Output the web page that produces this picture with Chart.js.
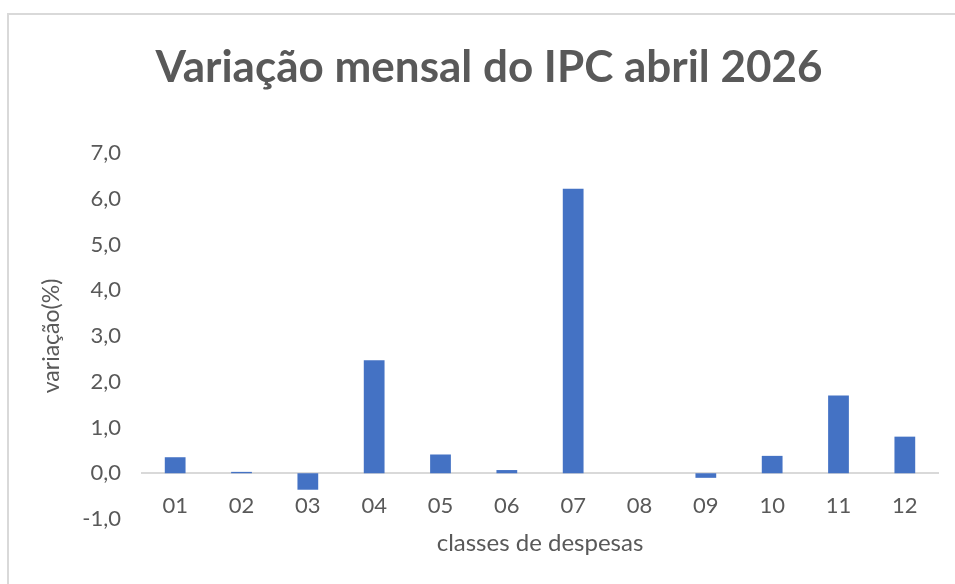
<!DOCTYPE html>
<html>
<head>
<meta charset="utf-8">
<script src="https://cdn.jsdelivr.net/npm/chart.js@4/dist/chart.umd.min.js"></script>
<style>
html,body{margin:0;padding:0;background:#fff;overflow:hidden;}
#frame{position:absolute;left:7px;top:13px;width:1000px;height:700px;border-left:2px solid #d9d9d9;border-top:2px solid #d9d9d9;}
#wrap{position:absolute;left:0;top:0;width:955px;height:584px;}
</style>
</head>
<body>
<div id="frame"></div>
<div id="wrap"><canvas id="c" width="955" height="584"></canvas></div>
<script>
const categories = ["01","02","03","04","05","06","07","08","09","10","11","12"];
const values = [0.35, 0.03, -0.36, 2.47, 0.41, 0.07, 6.22, 0.00, -0.10, 0.38, 1.70, 0.80];
const yTicks = [-1, 0, 1, 2, 3, 4, 5, 6, 7];
const titleText = "Variação mensal do IPC abril 2026";
const xTitle = "classes de despesas";
const yTitle = "variação(%)";

const textColor = "#595959";
const FONT = "Lato";

const titlesPlugin = {
  id: "titlesPlugin",
  afterDraw(chart) {
    const ctx = chart.ctx;
    const a = chart.chartArea;
    ctx.save();
    ctx.fillStyle = textColor;
    ctx.textAlign = "center";
    ctx.textBaseline = "alphabetic";
    ctx.font = "bold 44px " + FONT;
    ctx.fillText(titleText, 489, 82);
    ctx.font = "24px " + FONT;
    ctx.fillText(xTitle, (a.left + a.right) / 2, 551);
    ctx.restore();
  }
};

new Chart(document.getElementById("c"), {
  type: "bar",
  data: {
    labels: categories,
    datasets: [{
      data: values,
      backgroundColor: "#4472C4",
      borderWidth: 0,
      categoryPercentage: 1.0,
      barPercentage: 0.313
    }]
  },
  plugins: [titlesPlugin],
  options: {
    responsive: false,
    animation: false,
    devicePixelRatio: 1,
    layout: { padding: { left: 0, right: 17, top: 153, bottom: 65 } },
    plugins: {
      legend: { display: false },
      tooltip: { enabled: false },
      title: { display: false }
    },
    scales: {
      x: {
        position: { y: 0 },
        grid: { display: false, drawTicks: false },
        border: { display: true, color: "#d9d9d9", width: 2 },
        ticks: { color: textColor, font: { family: FONT, size: 22 }, padding: 19 }
      },
      y: {
        min: -1, max: 7,
        afterBuildTicks: (s) => { s.ticks = yTicks.map(v => ({ value: v })); },
        afterFit: (s) => { s.width = 142; },
        grid: { display: false, drawTicks: false },
        border: { display: false },
        ticks: {
          color: textColor,
          font: { family: FONT, size: 22 },
          padding: 21,
          callback: (v) => Number(v).toFixed(1).replace(".", ",")
        },
        title: {
          display: true,
          text: yTitle,
          color: textColor,
          font: { family: FONT, size: 23 },
          padding: { top: 38, bottom: 0 }
        }
      }
    }
  }
});
</script>
</body>
</html>
